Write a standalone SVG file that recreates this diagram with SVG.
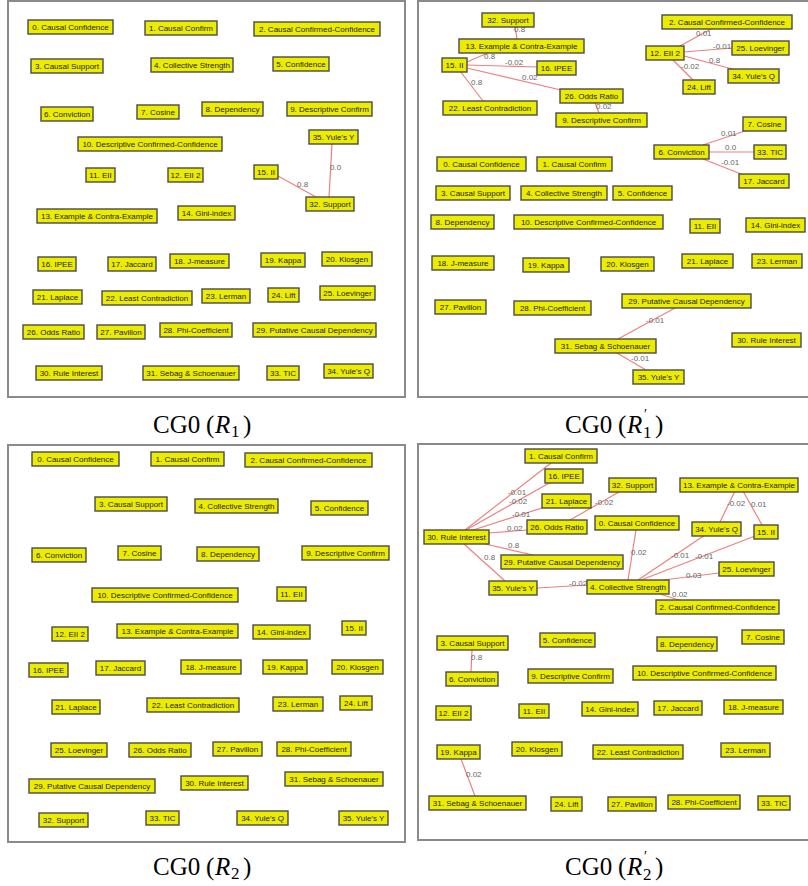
<svg xmlns="http://www.w3.org/2000/svg" width="808" height="886" viewBox="0 0 808 886">
<style>
.bg{fill:#ffffff}
.frame{fill:none;stroke:#8a8a8a;stroke-width:2}
.n rect{fill:#ecec00;stroke:#4a4a4a;stroke-width:1.4}
.n text{font-family:"Liberation Sans",Arial,sans-serif;font-size:8px;fill:#222;text-anchor:middle}
.e line{stroke:#ee8080;stroke-width:1.2}
.e text{font-family:"Liberation Sans",Arial,sans-serif;font-size:8px;fill:#666}
.cap{font-family:"Liberation Serif","Times New Roman",serif;font-size:25px;fill:#000}
.sub{font-size:17px}
.pr{font-size:14px}
</style>
<rect class="bg" x="0" y="0" width="808" height="886"/>
<g id="frames">
<rect class="frame" x="8" y="1" width="397" height="396"/>
<rect class="frame" x="418" y="1" width="400" height="396"/>
<rect class="frame" x="8" y="445" width="397" height="397"/>
<rect class="frame" x="418" y="444" width="400" height="396"/>
</g>
<g id="captions">
<text class="cap" x="153" y="433">CG0</text><text class="cap" x="206" y="433">(</text><text class="cap" x="215" y="433" font-style="italic">R</text><text class="cap sub" x="231" y="437">1</text><text class="cap" x="243" y="433">)</text>
<text class="cap" x="565" y="433">CG0</text><text class="cap" x="618" y="433">(</text><text class="cap" x="627" y="433" font-style="italic">R</text><text class="cap sub" x="643" y="438">1</text><text class="cap pr" x="644" y="419">′</text><text class="cap" x="655" y="433">)</text>
<text class="cap" x="153" y="875">CG0</text><text class="cap" x="206" y="875">(</text><text class="cap" x="215" y="875" font-style="italic">R</text><text class="cap sub" x="231" y="879">2</text><text class="cap" x="243" y="875">)</text>
<text class="cap" x="565" y="875">CG0</text><text class="cap" x="618" y="875">(</text><text class="cap" x="627" y="875" font-style="italic">R</text><text class="cap sub" x="643" y="880">2</text><text class="cap pr" x="644" y="861">′</text><text class="cap" x="655" y="875">)</text>
</g>
<g id="connectors" class="e">
<line x1="278" y1="176" x2="316" y2="197"/><text x="297" y="187">0.8</text>
<line x1="332" y1="144" x2="329" y2="197"/><text x="330" y="170">0.0</text>
<line x1="515" y1="26" x2="517" y2="39"/><text x="514" y="32">0.8</text>
<line x1="467" y1="62" x2="490" y2="52"/><text x="484" y="59">0.8</text>
<line x1="467" y1="65" x2="537" y2="67"/><text x="505" y="65">-0.02</text>
<line x1="467" y1="68" x2="561" y2="90"/><text x="522" y="80">0.02</text>
<line x1="460" y1="71" x2="483" y2="101"/><text x="471" y="85">0.8</text>
<line x1="595" y1="103" x2="599" y2="113"/><text x="596" y="109">0.02</text>
<line x1="680" y1="46" x2="711" y2="29"/><text x="696" y="36">0.01</text>
<line x1="684" y1="52" x2="732" y2="48"/><text x="713" y="49">-0.01</text>
<line x1="684" y1="56" x2="736" y2="70"/><text x="709" y="63">0.8</text>
<line x1="673" y1="60" x2="693" y2="80"/><text x="681" y="69">-0.02</text>
<line x1="703" y1="145" x2="748" y2="130"/><text x="721" y="136">0.01</text>
<line x1="709" y1="152" x2="754" y2="152"/><text x="725" y="150">0.0</text>
<line x1="703" y1="159" x2="741" y2="174"/><text x="721" y="165">-0.01</text>
<line x1="675" y1="308" x2="618" y2="339"/><text x="646" y="323">-0.01</text>
<line x1="617" y1="353" x2="646" y2="370"/><text x="631" y="361">-0.01</text>
<line x1="465" y1="530" x2="551" y2="463"/><text x="508" y="495">-0.01</text>
<line x1="466" y1="530" x2="551" y2="482"/><text x="509" y="504">-0.02</text>
<line x1="470" y1="531" x2="545" y2="507"/><text x="512" y="517">-0.01</text>
<line x1="489" y1="533" x2="527" y2="530"/><text x="507" y="531">0.02</text>
<line x1="619" y1="492" x2="570" y2="520"/><text x="595" y="505">-0.02</text>
<line x1="485" y1="544" x2="533" y2="555"/><text x="508" y="548">0.8</text>
<line x1="464" y1="544" x2="505" y2="581"/><text x="484" y="560">0.8</text>
<line x1="537" y1="588" x2="587" y2="585"/><text x="569" y="586">-0.02</text>
<line x1="636" y1="530" x2="628" y2="580"/><text x="631" y="555">0.02</text>
<line x1="705" y1="535" x2="638" y2="580"/><text x="671" y="558">-0.01</text>
<line x1="755" y1="536" x2="641" y2="580"/><text x="695" y="559">-0.01</text>
<line x1="719" y1="573" x2="663" y2="580"/><text x="686" y="578">0.03</text>
<line x1="660" y1="594" x2="685" y2="602"/><text x="672" y="597">0.02</text>
<line x1="735" y1="491" x2="720" y2="522"/><text x="727" y="506">-0.02</text>
<line x1="743" y1="491" x2="762" y2="525"/><text x="751" y="507">0.01</text>
<line x1="472" y1="649" x2="471" y2="672"/><text x="471" y="660">0.8</text>
<line x1="461" y1="759" x2="475" y2="796"/><text x="466" y="777">0.02</text>
</g>
<g id="panel1">
<g id="p1-n0" class="n"><rect x="28" y="20" width="85" height="14"/><text x="70.5" y="30">0. Causal Confidence</text></g>
<g id="p1-n1" class="n"><rect x="145" y="21" width="72" height="14"/><text x="181" y="31">1. Causal Confirm</text></g>
<g id="p1-n2" class="n"><rect x="254" y="22" width="126" height="14"/><text x="317" y="32">2. Causal Confirmed-Confidence</text></g>
<g id="p1-n3" class="n"><rect x="31" y="59" width="72" height="14"/><text x="67" y="69">3. Causal Support</text></g>
<g id="p1-n4" class="n"><rect x="151" y="58" width="82" height="14"/><text x="192" y="68">4. Collective Strength</text></g>
<g id="p1-n5" class="n"><rect x="273" y="57" width="56" height="14"/><text x="301" y="67">5. Confidence</text></g>
<g id="p1-n6" class="n"><rect x="41" y="107" width="52" height="14"/><text x="67" y="117">6. Conviction</text></g>
<g id="p1-n7" class="n"><rect x="137" y="105" width="42" height="14"/><text x="158" y="115">7. Cosine</text></g>
<g id="p1-n8" class="n"><rect x="202" y="102" width="61" height="14"/><text x="232.5" y="112">8. Dependency</text></g>
<g id="p1-n9" class="n"><rect x="287" y="102" width="85" height="14"/><text x="329.5" y="112">9. Descriptive Confirm</text></g>
<g id="p1-n10" class="n"><rect x="78" y="137" width="144" height="14"/><text x="150" y="147">10. Descriptive Confirmed-Confidence</text></g>
<g id="p1-n11" class="n"><rect x="86" y="168" width="29" height="14"/><text x="100.5" y="178">11. EII</text></g>
<g id="p1-n12" class="n"><rect x="168" y="168" width="35" height="14"/><text x="185.5" y="178">12. EII 2</text></g>
<g id="p1-n13" class="n"><rect x="37" y="209" width="120" height="14"/><text x="97" y="219">13. Example &amp; Contra-Example</text></g>
<g id="p1-n14" class="n"><rect x="178" y="206" width="57" height="14"/><text x="206.5" y="216">14. Gini-index</text></g>
<g id="p1-n15" class="n"><rect x="254" y="165" width="24" height="14"/><text x="266" y="175">15. II</text></g>
<g id="p1-n16" class="n"><rect x="38" y="257" width="38" height="14"/><text x="57" y="267">16. IPEE</text></g>
<g id="p1-n17" class="n"><rect x="108" y="257" width="48" height="14"/><text x="132" y="267">17. Jaccard</text></g>
<g id="p1-n18" class="n"><rect x="170" y="254" width="59" height="14"/><text x="199.5" y="264">18. J-measure</text></g>
<g id="p1-n19" class="n"><rect x="261" y="253" width="44" height="14"/><text x="283" y="263">19. Kappa</text></g>
<g id="p1-n20" class="n"><rect x="322" y="252" width="50" height="14"/><text x="347" y="262">20. Klosgen</text></g>
<g id="p1-n21" class="n"><rect x="33" y="290" width="49" height="14"/><text x="57.5" y="300">21. Laplace</text></g>
<g id="p1-n22" class="n"><rect x="102" y="291" width="90" height="14"/><text x="147" y="301">22. Least Contradiction</text></g>
<g id="p1-n23" class="n"><rect x="202" y="289" width="48" height="14"/><text x="226" y="299">23. Lerman</text></g>
<g id="p1-n24" class="n"><rect x="268" y="288" width="31" height="14"/><text x="283.5" y="298">24. Lift</text></g>
<g id="p1-n25" class="n"><rect x="320" y="286" width="55" height="14"/><text x="347.5" y="296">25. Loevinger</text></g>
<g id="p1-n26" class="n"><rect x="23" y="325" width="61" height="14"/><text x="53.5" y="335">26. Odds Ratio</text></g>
<g id="p1-n27" class="n"><rect x="97" y="325" width="48" height="14"/><text x="121" y="335">27. Pavillon</text></g>
<g id="p1-n28" class="n"><rect x="160" y="323" width="72" height="14"/><text x="196" y="333">28. Phi-Coefficient</text></g>
<g id="p1-n29" class="n"><rect x="253" y="323" width="123" height="14"/><text x="314.5" y="333">29. Putative Causal Dependency</text></g>
<g id="p1-n30" class="n"><rect x="36" y="366" width="66" height="14"/><text x="69" y="376">30. Rule Interest</text></g>
<g id="p1-n31" class="n"><rect x="143" y="366" width="96" height="14"/><text x="191" y="376">31. Sebag &amp; Schoenauer</text></g>
<g id="p1-n32" class="n"><rect x="306" y="197" width="48" height="14"/><text x="330" y="207">32. Support</text></g>
<g id="p1-n33" class="n"><rect x="267" y="366" width="32" height="14"/><text x="283" y="376">33. TIC</text></g>
<g id="p1-n34" class="n"><rect x="324" y="364" width="49" height="14"/><text x="348.5" y="374">34. Yule's Q</text></g>
<g id="p1-n35" class="n"><rect x="309" y="130" width="49" height="14"/><text x="333.5" y="140">35. Yule's Y</text></g>
</g>
<g id="panel2">
<g id="p2-n32" class="n"><rect x="482" y="13" width="52" height="14"/><text x="508" y="23">32. Support</text></g>
<g id="p2-n13" class="n"><rect x="459" y="39" width="125" height="14"/><text x="521.5" y="49">13. Example &amp; Contra-Example</text></g>
<g id="p2-n15" class="n"><rect x="442" y="58" width="25" height="14"/><text x="454.5" y="68">15. II</text></g>
<g id="p2-n16" class="n"><rect x="537" y="61" width="39" height="14"/><text x="556.5" y="71">16. IPEE</text></g>
<g id="p2-n22" class="n"><rect x="443" y="101" width="94" height="14"/><text x="490" y="111">22. Least Contradiction</text></g>
<g id="p2-n26" class="n"><rect x="560" y="89" width="63" height="14"/><text x="591.5" y="99">26. Odds Ratio</text></g>
<g id="p2-n9" class="n"><rect x="556" y="113" width="91" height="14"/><text x="601.5" y="123">9. Descriptive Confirm</text></g>
<g id="p2-n2" class="n"><rect x="662" y="15" width="130" height="14"/><text x="727" y="25">2. Causal Confirmed-Confidence</text></g>
<g id="p2-n12" class="n"><rect x="646" y="46" width="38" height="14"/><text x="665" y="56">12. EII 2</text></g>
<g id="p2-n25" class="n"><rect x="732" y="41" width="57" height="14"/><text x="760.5" y="51">25. Loevinger</text></g>
<g id="p2-n34" class="n"><rect x="728" y="69" width="51" height="14"/><text x="753.5" y="79">34. Yule's Q</text></g>
<g id="p2-n24" class="n"><rect x="683" y="80" width="32" height="14"/><text x="699" y="90">24. Lift</text></g>
<g id="p2-n7" class="n"><rect x="743" y="117" width="43" height="14"/><text x="764.5" y="127">7. Cosine</text></g>
<g id="p2-n6" class="n"><rect x="654" y="145" width="55" height="14"/><text x="681.5" y="155">6. Conviction</text></g>
<g id="p2-n33" class="n"><rect x="754" y="145" width="32" height="14"/><text x="770" y="155">33. TIC</text></g>
<g id="p2-n17" class="n"><rect x="739" y="174" width="50" height="14"/><text x="764" y="184">17. Jaccard</text></g>
<g id="p2-n0" class="n"><rect x="437" y="157" width="89" height="14"/><text x="481.5" y="167">0. Causal Confidence</text></g>
<g id="p2-n1" class="n"><rect x="537" y="157" width="75" height="14"/><text x="574.5" y="167">1. Causal Confirm</text></g>
<g id="p2-n3" class="n"><rect x="436" y="186" width="74" height="14"/><text x="473" y="196">3. Causal Support</text></g>
<g id="p2-n4" class="n"><rect x="521" y="186" width="86" height="14"/><text x="564" y="196">4. Collective Strength</text></g>
<g id="p2-n5" class="n"><rect x="613" y="186" width="59" height="14"/><text x="642.5" y="196">5. Confidence</text></g>
<g id="p2-n8" class="n"><rect x="431" y="215" width="63" height="14"/><text x="462.5" y="225">8. Dependency</text></g>
<g id="p2-n10" class="n"><rect x="514" y="215" width="149" height="14"/><text x="588.5" y="225">10. Descriptive Confirmed-Confidence</text></g>
<g id="p2-n11" class="n"><rect x="690" y="219" width="30" height="14"/><text x="705" y="229">11. EII</text></g>
<g id="p2-n14" class="n"><rect x="746" y="218" width="59" height="14"/><text x="775.5" y="228">14. Gini-index</text></g>
<g id="p2-n18" class="n"><rect x="432" y="256" width="62" height="14"/><text x="463" y="266">18. J-measure</text></g>
<g id="p2-n19" class="n"><rect x="523" y="258" width="46" height="14"/><text x="546" y="268">19. Kappa</text></g>
<g id="p2-n20" class="n"><rect x="601" y="257" width="53" height="14"/><text x="627.5" y="267">20. Klosgen</text></g>
<g id="p2-n21" class="n"><rect x="682" y="254" width="51" height="14"/><text x="707.5" y="264">21. Laplace</text></g>
<g id="p2-n23" class="n"><rect x="752" y="254" width="50" height="14"/><text x="777" y="264">23. Lerman</text></g>
<g id="p2-n27" class="n"><rect x="435" y="300" width="51" height="14"/><text x="460.5" y="310">27. Pavillon</text></g>
<g id="p2-n28" class="n"><rect x="514" y="301" width="77" height="14"/><text x="552.5" y="311">28. Phi-Coefficient</text></g>
<g id="p2-n29" class="n"><rect x="622" y="294" width="129" height="14"/><text x="686.5" y="304">29. Putative Causal Dependency</text></g>
<g id="p2-n31" class="n"><rect x="555" y="339" width="101" height="14"/><text x="605.5" y="349">31. Sebag &amp; Schoenauer</text></g>
<g id="p2-n30" class="n"><rect x="732" y="333" width="69" height="14"/><text x="766.5" y="343">30. Rule Interest</text></g>
<g id="p2-n35" class="n"><rect x="633" y="370" width="51" height="14"/><text x="658.5" y="380">35. Yule's Y</text></g>
</g>
<g id="panel3">
<g id="p3-n0" class="n"><rect x="32" y="452" width="87" height="14"/><text x="75.5" y="462">0. Causal Confidence</text></g>
<g id="p3-n1" class="n"><rect x="151" y="452" width="73" height="14"/><text x="187.5" y="462">1. Causal Confirm</text></g>
<g id="p3-n2" class="n"><rect x="245" y="453" width="127" height="14"/><text x="308.5" y="463">2. Causal Confirmed-Confidence</text></g>
<g id="p3-n3" class="n"><rect x="95" y="497" width="72" height="14"/><text x="131" y="507">3. Causal Support</text></g>
<g id="p3-n4" class="n"><rect x="195" y="499" width="83" height="14"/><text x="236.5" y="509">4. Collective Strength</text></g>
<g id="p3-n5" class="n"><rect x="311" y="501" width="57" height="14"/><text x="339.5" y="511">5. Confidence</text></g>
<g id="p3-n6" class="n"><rect x="32" y="548" width="54" height="14"/><text x="59" y="558">6. Conviction</text></g>
<g id="p3-n7" class="n"><rect x="118" y="546" width="43" height="14"/><text x="139.5" y="556">7. Cosine</text></g>
<g id="p3-n8" class="n"><rect x="197" y="547" width="62" height="14"/><text x="228" y="557">8. Dependency</text></g>
<g id="p3-n9" class="n"><rect x="302" y="546" width="87" height="14"/><text x="345.5" y="556">9. Descriptive Confirm</text></g>
<g id="p3-n10" class="n"><rect x="92" y="588" width="146" height="14"/><text x="165" y="598">10. Descriptive Confirmed-Confidence</text></g>
<g id="p3-n11" class="n"><rect x="277" y="587" width="29" height="14"/><text x="291.5" y="597">11. EII</text></g>
<g id="p3-n12" class="n"><rect x="52" y="627" width="36" height="14"/><text x="70" y="637">12. EII 2</text></g>
<g id="p3-n13" class="n"><rect x="117" y="624" width="121" height="14"/><text x="177.5" y="634">13. Example &amp; Contra-Example</text></g>
<g id="p3-n14" class="n"><rect x="253" y="625" width="57" height="14"/><text x="281.5" y="635">14. Gini-index</text></g>
<g id="p3-n15" class="n"><rect x="342" y="621" width="24" height="14"/><text x="354" y="631">15. II</text></g>
<g id="p3-n16" class="n"><rect x="29" y="663" width="39" height="14"/><text x="48.5" y="673">16. IPEE</text></g>
<g id="p3-n17" class="n"><rect x="96" y="661" width="49" height="14"/><text x="120.5" y="671">17. Jaccard</text></g>
<g id="p3-n18" class="n"><rect x="181" y="660" width="60" height="14"/><text x="211" y="670">18. J-measure</text></g>
<g id="p3-n19" class="n"><rect x="263" y="660" width="44" height="14"/><text x="285" y="670">19. Kappa</text></g>
<g id="p3-n20" class="n"><rect x="332" y="660" width="51" height="14"/><text x="357.5" y="670">20. Klosgen</text></g>
<g id="p3-n21" class="n"><rect x="52" y="700" width="48" height="14"/><text x="76" y="710">21. Laplace</text></g>
<g id="p3-n22" class="n"><rect x="147" y="698" width="92" height="14"/><text x="193" y="708">22. Least Contradiction</text></g>
<g id="p3-n23" class="n"><rect x="273" y="697" width="50" height="14"/><text x="298" y="707">23. Lerman</text></g>
<g id="p3-n24" class="n"><rect x="340" y="696" width="32" height="14"/><text x="356" y="706">24. Lift</text></g>
<g id="p3-n25" class="n"><rect x="51" y="743" width="56" height="14"/><text x="79" y="753">25. Loevinger</text></g>
<g id="p3-n26" class="n"><rect x="129" y="743" width="62" height="14"/><text x="160" y="753">26. Odds Ratio</text></g>
<g id="p3-n27" class="n"><rect x="213" y="742" width="49" height="14"/><text x="237.5" y="752">27. Pavillon</text></g>
<g id="p3-n28" class="n"><rect x="277" y="742" width="74" height="14"/><text x="314" y="752">28. Phi-Coefficient</text></g>
<g id="p3-n29" class="n"><rect x="29" y="779" width="126" height="14"/><text x="92" y="789">29. Putative Causal Dependency</text></g>
<g id="p3-n30" class="n"><rect x="181" y="776" width="67" height="14"/><text x="214.5" y="786">30. Rule Interest</text></g>
<g id="p3-n31" class="n"><rect x="285" y="772" width="98" height="14"/><text x="334" y="782">31. Sebag &amp; Schoenauer</text></g>
<g id="p3-n32" class="n"><rect x="39" y="813" width="49" height="14"/><text x="63.5" y="823">32. Support</text></g>
<g id="p3-n33" class="n"><rect x="146" y="811" width="33" height="14"/><text x="162.5" y="821">33. TIC</text></g>
<g id="p3-n34" class="n"><rect x="237" y="811" width="51" height="14"/><text x="262.5" y="821">34. Yule's Q</text></g>
<g id="p3-n35" class="n"><rect x="339" y="811" width="49" height="14"/><text x="363.5" y="821">35. Yule's Y</text></g>
</g>
<g id="panel4">
<g id="p4-n1" class="n"><rect x="525" y="449" width="72" height="14"/><text x="561" y="459">1. Causal Confirm</text></g>
<g id="p4-n16" class="n"><rect x="545" y="469" width="38" height="14"/><text x="564" y="479">16. IPEE</text></g>
<g id="p4-n32" class="n"><rect x="609" y="478" width="47" height="14"/><text x="632.5" y="488">32. Support</text></g>
<g id="p4-n13" class="n"><rect x="680" y="478" width="118" height="14"/><text x="739" y="488">13. Example &amp; Contra-Example</text></g>
<g id="p4-n21" class="n"><rect x="542" y="494" width="49" height="14"/><text x="566.5" y="504">21. Laplace</text></g>
<g id="p4-n26" class="n"><rect x="527" y="520" width="60" height="14"/><text x="557" y="530">26. Odds Ratio</text></g>
<g id="p4-n0" class="n"><rect x="595" y="516" width="84" height="14"/><text x="637" y="526">0. Causal Confidence</text></g>
<g id="p4-n34" class="n"><rect x="692" y="522" width="49" height="14"/><text x="716.5" y="532">34. Yule's Q</text></g>
<g id="p4-n15" class="n"><rect x="754" y="525" width="24" height="14"/><text x="766" y="535">15. II</text></g>
<g id="p4-n30" class="n"><rect x="424" y="530" width="65" height="14"/><text x="456.5" y="540">30. Rule Interest</text></g>
<g id="p4-n29" class="n"><rect x="501" y="555" width="122" height="14"/><text x="562" y="565">29. Putative Causal Dependency</text></g>
<g id="p4-n25" class="n"><rect x="719" y="562" width="55" height="14"/><text x="746.5" y="572">25. Loevinger</text></g>
<g id="p4-n35" class="n"><rect x="489" y="581" width="48" height="14"/><text x="513" y="591">35. Yule's Y</text></g>
<g id="p4-n4" class="n"><rect x="587" y="580" width="82" height="14"/><text x="628" y="590">4. Collective Strength</text></g>
<g id="p4-n2" class="n"><rect x="656" y="600" width="123" height="14"/><text x="717.5" y="610">2. Causal Confirmed-Confidence</text></g>
<g id="p4-n3" class="n"><rect x="437" y="636" width="71" height="14"/><text x="472.5" y="646">3. Causal Support</text></g>
<g id="p4-n5" class="n"><rect x="540" y="633" width="55" height="14"/><text x="567.5" y="643">5. Confidence</text></g>
<g id="p4-n8" class="n"><rect x="657" y="637" width="60" height="14"/><text x="687" y="647">8. Dependency</text></g>
<g id="p4-n7" class="n"><rect x="742" y="630" width="42" height="14"/><text x="763" y="640">7. Cosine</text></g>
<g id="p4-n6" class="n"><rect x="446" y="672" width="52" height="14"/><text x="472" y="682">6. Conviction</text></g>
<g id="p4-n9" class="n"><rect x="528" y="669" width="85" height="14"/><text x="570.5" y="679">9. Descriptive Confirm</text></g>
<g id="p4-n10" class="n"><rect x="633" y="666" width="143" height="14"/><text x="704.5" y="676">10. Descriptive Confirmed-Confidence</text></g>
<g id="p4-n12" class="n"><rect x="436" y="706" width="35" height="14"/><text x="453.5" y="716">12. EII 2</text></g>
<g id="p4-n11" class="n"><rect x="519" y="704" width="30" height="14"/><text x="534" y="714">11. EII</text></g>
<g id="p4-n14" class="n"><rect x="582" y="702" width="56" height="14"/><text x="610" y="712">14. Gini-index</text></g>
<g id="p4-n17" class="n"><rect x="654" y="701" width="48" height="14"/><text x="678" y="711">17. Jaccard</text></g>
<g id="p4-n18" class="n"><rect x="724" y="700" width="59" height="14"/><text x="753.5" y="710">18. J-measure</text></g>
<g id="p4-n19" class="n"><rect x="437" y="745" width="43" height="14"/><text x="458.5" y="755">19. Kappa</text></g>
<g id="p4-n20" class="n"><rect x="512" y="742" width="50" height="14"/><text x="537" y="752">20. Klosgen</text></g>
<g id="p4-n22" class="n"><rect x="593" y="745" width="90" height="14"/><text x="638" y="755">22. Least Contradiction</text></g>
<g id="p4-n23" class="n"><rect x="721" y="743" width="49" height="14"/><text x="745.5" y="753">23. Lerman</text></g>
<g id="p4-n31" class="n"><rect x="429" y="796" width="97" height="14"/><text x="477.5" y="806">31. Sebag &amp; Schoenauer</text></g>
<g id="p4-n24" class="n"><rect x="551" y="797" width="31" height="14"/><text x="566.5" y="807">24. Lift</text></g>
<g id="p4-n27" class="n"><rect x="608" y="797" width="48" height="14"/><text x="632" y="807">27. Pavillon</text></g>
<g id="p4-n28" class="n"><rect x="668" y="795" width="72" height="14"/><text x="704" y="805">28. Phi-Coefficient</text></g>
<g id="p4-n33" class="n"><rect x="758" y="796" width="32" height="14"/><text x="774" y="806">33. TIC</text></g>
</g>
</svg>
